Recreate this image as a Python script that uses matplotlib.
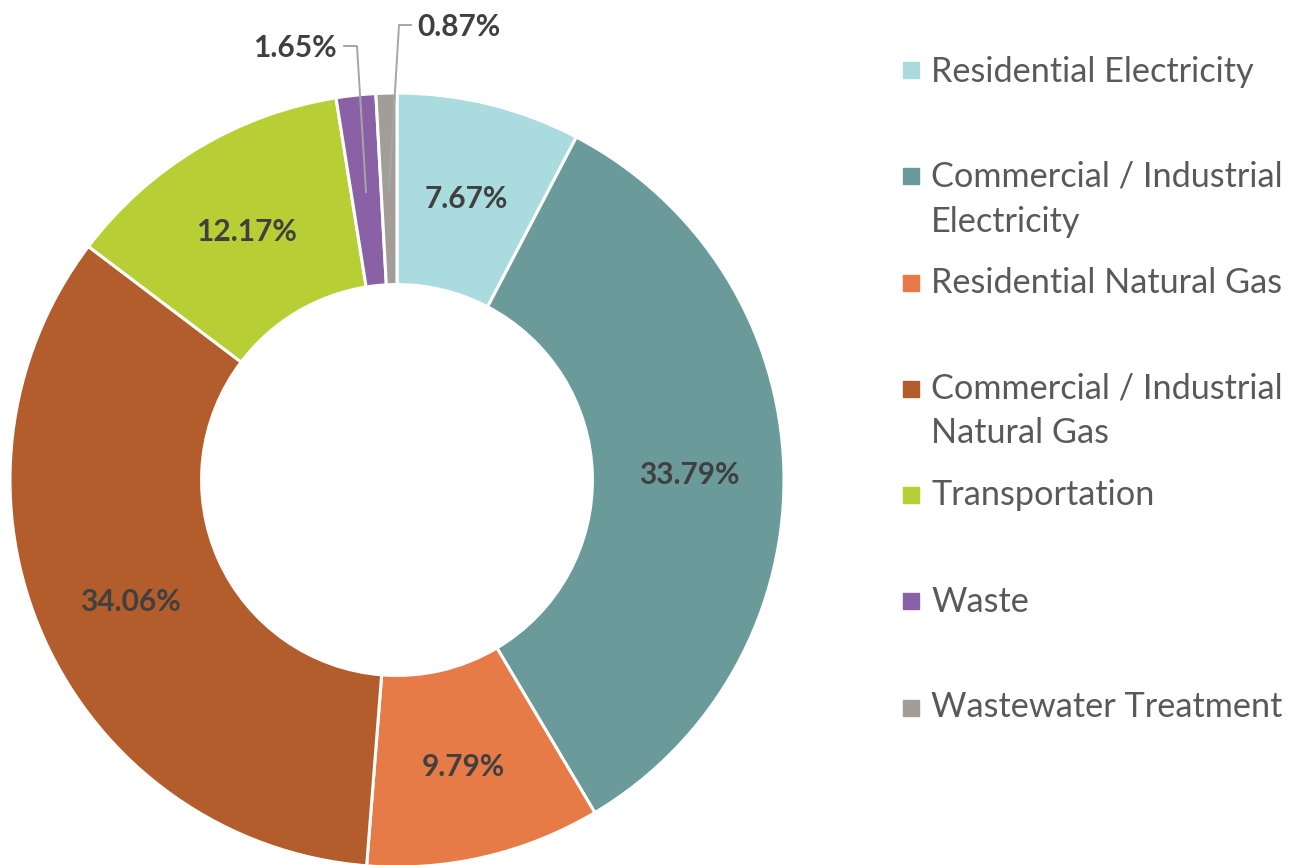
import matplotlib
matplotlib.use("Agg")
import matplotlib.pyplot as plt

# ---- data ----
CATS = ["Residential Electricity", "Commercial / Industrial\nElectricity",
        "Residential Natural Gas", "Commercial / Industrial\nNatural Gas",
        "Transportation", "Waste", "Wastewater Treatment"]
SHARE = [7.67, 33.79, 9.79, 34.06, 12.17, 1.65, 0.87]
COLORS = ["#aadcdf", "#6a9a9a", "#e67b48", "#b35c2c", "#b7cf34", "#8b61a6", "#a29d98"]

LBL = "#404040"
LEG = "#595959"
plt.rcParams["font.family"] = ["Lato", "DejaVu Sans"]

W, H = 1298, 865
fig = plt.figure(figsize=(W / 100, H / 100), dpi=100)
cx, cy, R = 397, 480, 387          # donut centre / radius in pixels
ax = fig.add_axes([(cx - R) / W, (H - cy - R) / H, 2 * R / W, 2 * R / H])

ax.pie(SHARE, colors=COLORS, startangle=90, counterclock=False, radius=1.0,
       wedgeprops=dict(width=0.495, edgecolor="white", linewidth=2.2))
ax.set_xlim(-1, 1); ax.set_ylim(-1, 1); ax.set_aspect("equal"); ax.axis("off")

def px(x, y):
    return (x - cx) / R, (cy - y) / R

# inside labels (pixel spots)
inside = {0: (466, 199), 1: (689, 475), 2: (463, 767), 3: (130, 602), 4: (246, 232)}
for i, (x, y) in inside.items():
    ax.text(*px(x, y), f"{SHARE[i]:.2f}%", ha="center", va="center",
            fontsize=21.5, fontweight="bold", color=LBL)

# small slices: labels outside with leader lines
lc = "#a6a6a6"
xs, ys = zip(*[px(366, 192), px(357, 46), px(344, 46)])
ax.plot(xs, ys, color=lc, lw=1.4, clip_on=False)
ax.text(*px(295, 48), f"{SHARE[5]:.2f}%", ha="center", va="center",
        fontsize=21.5, fontweight="bold", color=LBL)
xs, ys = zip(*[px(389, 190), px(399, 25), px(411, 25)])
ax.plot(xs, ys, color=lc, lw=1.4, clip_on=False)
ax.text(*px(459, 27), f"{SHARE[6]:.2f}%", ha="center", va="center",
        fontsize=21.5, fontweight="bold", color=LBL)

# legend, placed by hand like the Excel original
sq_y = [70, 176, 283, 389, 495, 601, 708]
base_y = [82, 187, 293, 398, 505, 612, 717]
for cat, col, sy, by in zip(CATS, COLORS, sq_y, base_y):
    fig.patches.append(plt.Rectangle((903 / W, 1 - (sy + 8) / H), 16 / W, 16 / H,
                                     transform=fig.transFigure, color=col, figure=fig))
    for k, line in enumerate(cat.split("\n")):
        fig.text(931 / W, 1 - (by + 45 * k) / H, line, ha="left", va="baseline",
                 fontsize=24.7, color=LEG)

fig.savefig("out.png", dpi=100)
